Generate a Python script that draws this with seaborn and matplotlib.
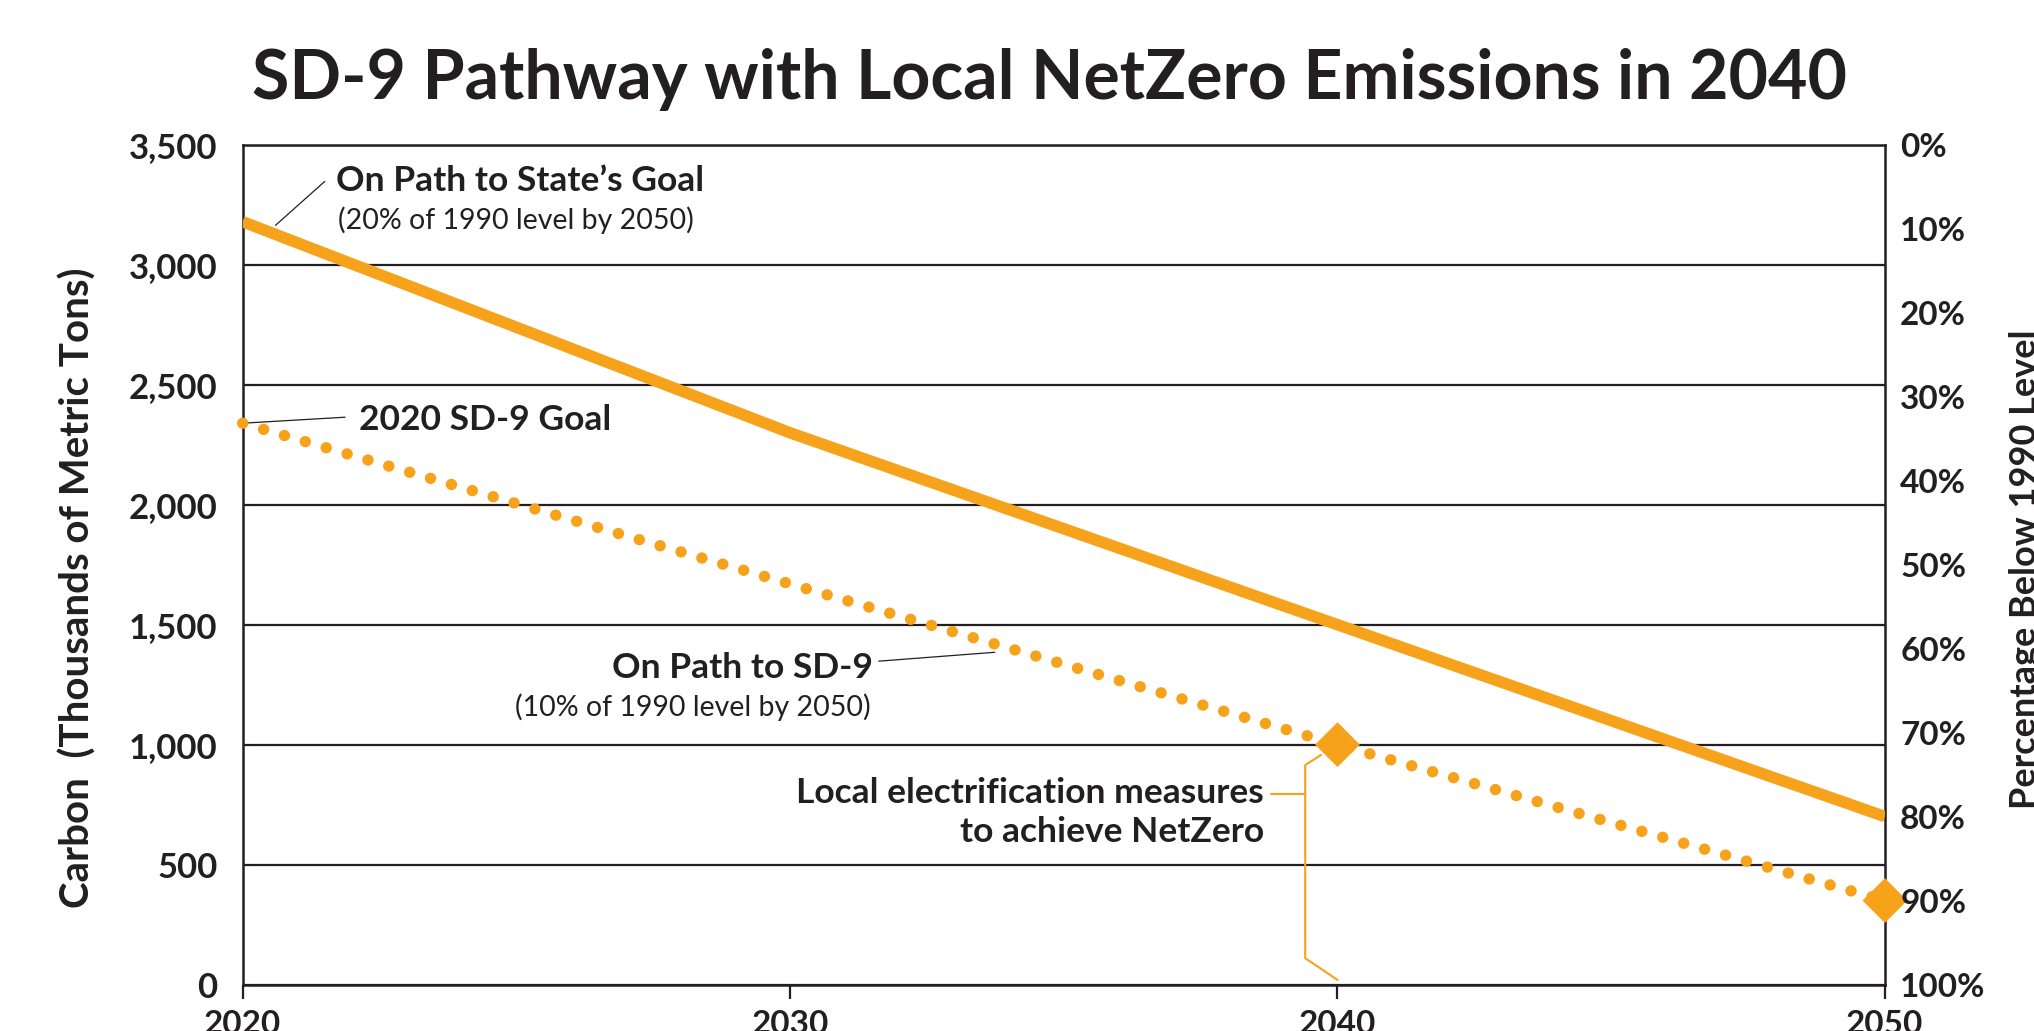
import pandas as pd
import seaborn as sns
import matplotlib.pyplot as plt

# values
years = [2020, 2030, 2040, 2050]
state_goal_path = [3180, 2300, 1500, 700]   # 20% of 1990 level by 2050
sd9_path = [2340, 1670, 1000, 350]          # 10% of 1990 level by 2050
netzero_years = [2040, 2050]
netzero_values = [1000, 350]

carbon_ticks = [0, 500, 1000, 1500, 2000, 2500, 3000, 3500]
pct_ticks = [0, 10, 20, 30, 40, 50, 60, 70, 80, 90, 100]
year_ticks = [2020, 2030, 2040, 2050]

orange = "#F7A21B"
dark = "#231F20"

df = pd.DataFrame({"year": years, "state": state_goal_path, "sd9": sd9_path})
nz = pd.DataFrame({"year": netzero_years, "carbon": netzero_values})

sns.set_theme(style="white")
plt.rcParams["font.family"] = ["Lato", "DejaVu Sans"]
plt.rcParams["text.color"] = dark
plt.rcParams["axes.labelcolor"] = dark
plt.rcParams["xtick.color"] = dark
plt.rcParams["ytick.color"] = dark

fig = plt.figure(figsize=(20.34, 10.31), dpi=100)
ax = fig.add_axes([0.1193, 0.0451, 0.8074, 0.8143])

sns.lineplot(data=df, x="year", y="state", ax=ax, color=orange, lw=8.3,
             solid_capstyle="butt", zorder=3)
sns.lineplot(data=df, x="year", y="sd9", ax=ax, color=orange, lw=8.2,
             linestyle=(0, (0.01, 1.9)), dash_capstyle="round",
             clip_on=False, zorder=3)
sns.scatterplot(data=nz, x="year", y="carbon", ax=ax, marker="D", s=520,
                color=orange, edgecolor="none", clip_on=False, zorder=5)

ax.set_xlim(2020, 2050)
ax.set_ylim(0, 3500)
ax.set_xticks(year_ticks)
ax.set_xticklabels([str(y) for y in year_ticks])
ax.set_yticks(carbon_ticks)
ax.set_yticklabels([f"{v:,}" for v in carbon_ticks])
ax.yaxis.grid(True, color=dark, lw=1.6)
ax.xaxis.grid(False)
for s in ax.spines.values():
    s.set_color(dark)
    s.set_linewidth(1.8)
ax.tick_params(axis="y", length=0, pad=18, labelsize=25)
ax.tick_params(axis="x", bottom=True, length=10, width=1.6, pad=8,
               labelsize=24, direction="out")
for lbl in ax.get_xticklabels() + ax.get_yticklabels():
    lbl.set_fontweight("bold")
ax.set_xlabel("")
ax.set_ylabel("Carbon  (Thousands of Metric Tons)", fontsize=29,
              fontweight="bold")
ax.yaxis.set_label_coords(-0.089, 0.473)

ax2 = ax.twinx()
ax2.set_ylim(100, 0)
ax2.set_yticks(pct_ticks)
ax2.set_yticklabels([f"{v}%" for v in pct_ticks])
ax2.tick_params(axis="y", length=0, pad=11, labelsize=24)
for lbl in ax2.get_yticklabels():
    lbl.set_fontweight("bold")
ax2.grid(False)
for s in ax2.spines.values():
    s.set_visible(False)
ax2.set_ylabel("Percentage Below 1990 Level", fontsize=26, fontweight="bold")
ax2.yaxis.set_label_coords(1.0754, 0.495)

fig.text(0.516, 0.904, "SD-9 Pathway with Local NetZero Emissions in 2040",
         ha="center", va="baseline", fontsize=49, fontweight="bold")

# annotations
ax.text(2021.70, 3306, "On Path to State\u2019s Goal", fontsize=25.5,
        fontweight="bold", va="baseline")
ax.text(2021.74, 3148, "(20% of 1990 level by 2050)", fontsize=20.5,
        va="baseline")
ax.plot([2020.6, 2021.5], [3165, 3348], color=dark, lw=0.9)

ax.text(2022.12, 2310, "2020 SD-9 Goal", fontsize=25.5, fontweight="bold",
        va="baseline")
ax.plot([years[0], 2021.87], [sd9_path[0], 2365], color=dark, lw=0.9)

ax.text(2031.52, 1277, "On Path to SD-9", fontsize=25.5, fontweight="bold",
        va="baseline", ha="right")
ax.text(2031.48, 1119, "(10% of 1990 level by 2050)", fontsize=20.5,
        va="baseline", ha="right")
ax.plot([2031.62, 2033.74], [1348, 1385], color=dark, lw=0.9)

ax.text(2038.66, 757, "Local electrification measures", fontsize=25.5,
        fontweight="bold", va="baseline", ha="right")
ax.text(2038.66, 594, "to achieve NetZero", fontsize=25.5,
        fontweight="bold", va="baseline", ha="right")
ax.plot([2038.79, 2039.41], [794, 794], color=orange, lw=1.5)
ax.plot([2039.70, 2039.41, 2039.41, 2040.0], [957, 915, 110, 19],
        color=orange, lw=1.5)

fig.savefig("out.png", dpi=100)
